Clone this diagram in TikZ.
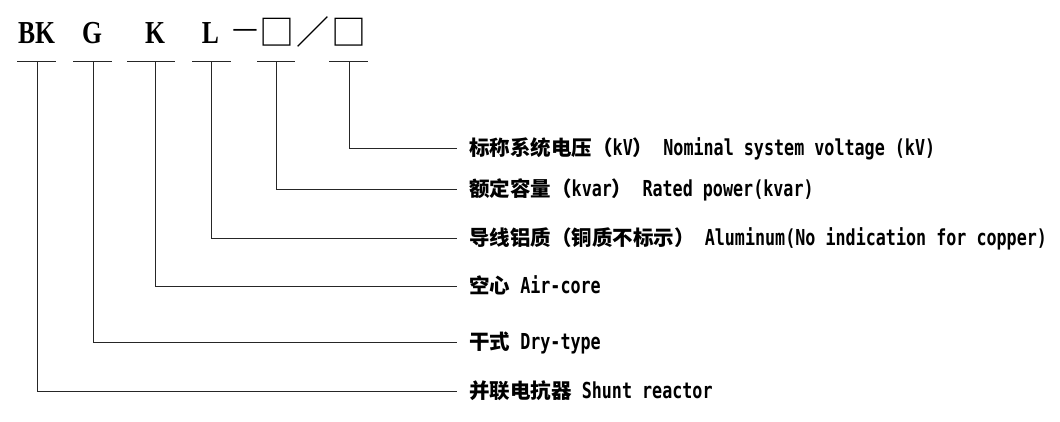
\documentclass[tikz,border=0pt]{standalone}
\usepackage{fontspec}
\setmainfont{DejaVu Sans Mono}[FakeStretch=0.76]
\newfontfamily\zhf{Noto Sans CJK SC}
\newfontfamily\topf{Liberation Serif}[FakeStretch=0.8]
\newcommand\zh[1]{{\zhf\bfseries\fontsize{20.5}{24}\selectfont #1}}
\begin{document}
\begin{tikzpicture}[x=1pt,y=-1pt,
  ln/.style={line width=1pt,draw=black!85},
  lab/.style={anchor=west,inner xsep=12pt,inner ysep=0pt,text height=18pt,text depth=2.5pt,
    font=\bfseries\fontsize{22}{24}\selectfont},
  topl/.style={anchor=base,inner sep=0pt,font=\topf\bfseries\fontsize{32}{36}\selectfont},
  sym/.style={anchor=center,inner sep=0pt,font=\zhf\fontsize{35}{40}\selectfont}]
\useasboundingbox (0,0) rectangle (1060,421);
% code letters
\node[topl] (BK) at (36.5,43) {BK};
\node[topl] (G) at (92,43) {G};
\node[topl] (K) at (155,43) {K};
\node[topl] (L) at (210.5,43) {L};
\node[sym,font=\zhf\fontsize{29}{34}\selectfont] (dash) at (245.5,34) {—};
\node[sym] (box1) at (276.5,32.5) {□};
\node[sym,font=\zhf\fontsize{33}{36}\selectfont] (slash) at (312.5,31.5) {／};
\node[sym] (box2) at (348.5,32.5) {□};
% underline coordinates
\coordinate (u1a) at (17,61); \coordinate (u1b) at (56,61); \coordinate (t1) at (37,61);
\coordinate (u2a) at (73,61); \coordinate (u2b) at (112,61); \coordinate (t2) at (93,61);
\coordinate (u3a) at (127,61); \coordinate (u3b) at (175,61); \coordinate (t3) at (155,61);
\coordinate (u4a) at (192,61); \coordinate (u4b) at (231,61); \coordinate (t4) at (211,61);
\coordinate (u5a) at (257,61); \coordinate (u5b) at (295,61); \coordinate (t5) at (276,61);
\coordinate (u6a) at (329,61); \coordinate (u6b) at (368,61); \coordinate (t6) at (349,61);
% labels
\node[lab] (lab1) at (457,148) {\zh{标称系统电压（}kV\zh{）} Nominal system voltage (kV)};
\node[lab] (lab2) at (457,189) {\zh{额定容量（}kvar\zh{）} Rated power(kvar)};
\node[lab] (lab3) at (457,238) {\zh{导线铝质（铜质不标示）} Aluminum(No indication for copper)};
\node[lab] (lab4) at (457,286) {\zh{空心} Air-core};
\node[lab] (lab5) at (457,342) {\zh{干式} Dry-type};
\node[lab] (lab6) at (457,391) {\zh{并联电抗器} Shunt reactor};
% lines
\foreach \i in {1,...,6} {\draw[ln] (u\i a) -- (u\i b);}
\draw[ln] (t6) |- (lab1.west);
\draw[ln] (t5) |- (lab2.west);
\draw[ln] (t4) |- (lab3.west);
\draw[ln] (t3) |- (lab4.west);
\draw[ln] (t2) |- (lab5.west);
\draw[ln] (t1) |- (lab6.west);
\end{tikzpicture}
\end{document}
